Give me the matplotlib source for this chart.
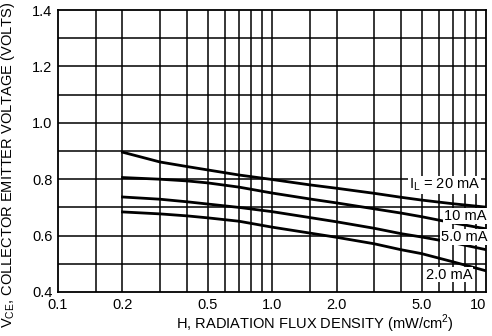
import matplotlib.pyplot as plt
from matplotlib import font_manager
import numpy as np

installed = {f.name for f in font_manager.fontManager.ttflist}
main_font = 'Liberation Sans Narrow' if 'Liberation Sans Narrow' in installed else 'Liberation Sans'
plt.rcParams['font.family'] = [main_font, 'DejaVu Sans']
plt.rcParams['mathtext.fontset'] = 'custom'
plt.rcParams['mathtext.rm'] = main_font

# Flux density points (mW/cm^2)
h = [0.2, 0.3, 0.4, 0.5, 0.7, 1.0, 1.5, 2.0, 3.0, 4.0, 5.0, 7.0, 10.0]

# V_CE (volts) for each load current
v_20ma = [0.896, 0.861, 0.845, 0.833, 0.815, 0.799, 0.780, 0.768, 0.750, 0.736, 0.726, 0.713, 0.701]
v_10ma = [0.806, 0.800, 0.794, 0.787, 0.772, 0.751, 0.730, 0.716, 0.695, 0.680, 0.667, 0.645, 0.624]
v_5ma = [0.737, 0.729, 0.720, 0.712, 0.700, 0.685, 0.664, 0.649, 0.626, 0.607, 0.595, 0.575, 0.550]
v_2ma = [0.684, 0.677, 0.670, 0.663, 0.651, 0.630, 0.609, 0.594, 0.571, 0.550, 0.536, 0.507, 0.475]

curve_labels = [r"$\mathregular{I_L}$ = 20 mA", "10 mA", "5.0 mA", "2.0 mA"]
label_pos = [(6.4, 0.780), (8.0, 0.669), (7.9, 0.595), (6.7, 0.462)]

x_ticks = [0.1, 0.2, 0.5, 1.0, 2.0, 5.0, 10]
x_tick_labels = ["0.1", "0.2", "0.5", "1.0", "2.0", "5.0", "10"]
x_grid = [0.15, 0.2, 0.3, 0.4, 0.5, 0.6, 0.7, 0.8, 0.9, 1.0,
          1.5, 2, 3, 4, 5, 6, 7, 8, 9]
y_ticks = [0.4, 0.6, 0.8, 1.0, 1.2, 1.4]

fig = plt.figure(figsize=(4.92, 3.36), dpi=100)
ax = fig.add_axes([0.118, 0.131, 0.870, 0.839])

ax.set_xscale('log')
ax.set_xlim(0.1, 10)
ax.set_ylim(0.4, 1.4)

# grid
for gx in x_grid:
    ax.axvline(gx, color='black', lw=1.1, zorder=1)
for gy in np.arange(0.5, 1.4, 0.1):
    ax.axhline(gy, color='black', lw=1.1, zorder=1)

for v in [v_20ma, v_10ma, v_5ma, v_2ma]:
    ax.plot(h, v, color='black', lw=2.0, zorder=3)

for txt, (lx, ly) in zip(curve_labels, label_pos):
    ax.text(lx, ly, txt, ha='center', va='center', fontsize=10.5, zorder=4,
            bbox=dict(facecolor='white', edgecolor='none', pad=0.5))

ax.set_xticks(x_ticks)
ax.set_xticklabels(x_tick_labels)
ax.xaxis.set_minor_locator(plt.NullLocator())
ax.set_yticks(y_ticks)
ax.set_yticklabels([f"{t:.1f}" for t in y_ticks])
ax.tick_params(length=0, labelsize=10.5, pad=4)
ax.get_xticklabels()[-1].set_horizontalalignment('right')

for s in ax.spines.values():
    s.set_color('black')
    s.set_linewidth(1.3)

ax.set_xlabel("H, RADIATION FLUX DENSITY (mW/cm$^2$)", fontsize=10.5)
ax.xaxis.set_label_coords(0.60, -0.075)
ax.set_ylabel(r"$\mathregular{V_{CE}}$, COLLECTOR EMITTER VOLTAGE (VOLTS)", fontsize=10.5)
ax.yaxis.set_label_coords(-0.095, 0.45)

fig.savefig('out.png', dpi=100)
